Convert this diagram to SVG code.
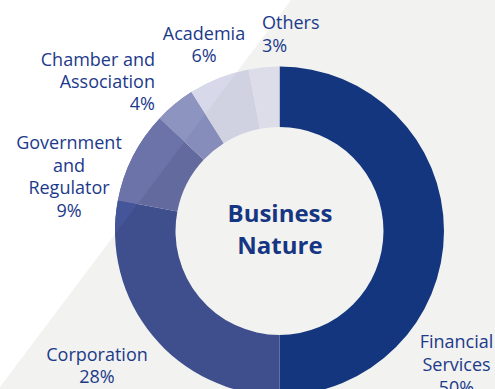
<svg xmlns="http://www.w3.org/2000/svg" width="495" height="389" viewBox="0 0 495 389">
<style>
.lbl{font-family:"Open Sans","Noto Sans",sans-serif;font-size:18px;fill:#1c3a8a}
.ttl{font-family:"Open Sans","Noto Sans",sans-serif;font-size:24px;font-weight:700;fill:#163683}
</style>
<defs>
<clipPath id="white-side"><polygon points="0,0 291,0 0,387"/></clipPath>
<path id="p-fin" d="M279.5,66.5 A164.5,164.5 0 0 1 279.5,395.5 L279.5,335 A104,104 0 0 0 279.5,127 Z"/>
<path id="p-corp" d="M279.5,395.5 A164.5,164.5 0 0 1 117.91,200.17 L177.34,211.51 A104,104 0 0 0 279.5,335 Z"/>
<path id="p-gov" d="M117.91,200.17 A164.5,164.5 0 0 1 159.58,118.40 L203.68,159.81 A104,104 0 0 0 177.34,211.51 Z"/>
<path id="p-cham" d="M159.58,118.40 A164.5,164.5 0 0 1 191.36,92.11 L223.78,143.19 A104,104 0 0 0 203.68,159.81 Z"/>
<path id="p-acad" d="M191.36,92.11 A164.5,164.5 0 0 1 248.67,69.41 L260.01,128.84 A104,104 0 0 0 223.78,143.19 Z"/>
<path id="p-oth" d="M248.67,69.41 A164.5,164.5 0 0 1 279.5,66.5 L279.5,127 A104,104 0 0 0 260.01,128.84 Z"/>
</defs>
<rect x="0" y="0" width="495" height="389" fill="#ffffff"/>
<polygon id="background" points="291,0 495,0 495,389 0,389 0,387" fill="#f2f2f0"/>
<g id="financial-services"><use href="#p-fin" fill="#14367f"/></g>
<g id="corporation"><use href="#p-corp" fill="#3f4f8e"/></g>
<g id="government"><use href="#p-gov" fill="#636b9e"/></g>
<g id="chamber"><use href="#p-cham" fill="#878dba"/></g>
<g id="academia"><use href="#p-acad" fill="#d0d2e2"/></g>
<g id="others"><use href="#p-oth" fill="#dcdde8"/></g>
<g id="white-side-tint" clip-path="url(#white-side)">
<use href="#p-corp" fill="#45559a"/>
<use href="#p-gov" fill="#6b73a8"/>
<use href="#p-cham" fill="#8e94c0"/>
<use href="#p-acad" fill="#d7d8e9"/>
<use href="#p-oth" fill="#e3e3ee"/>
</g>
<g id="center-title">
<text class="ttl" x="280" y="222" text-anchor="middle">Business</text>
<text class="ttl" x="280" y="254" text-anchor="middle">Nature</text>
</g>
<g id="label-academia">
<text class="lbl" x="204" y="40" text-anchor="middle">Academia</text>
<text class="lbl" x="204" y="62" text-anchor="middle">6%</text>
</g>
<g id="label-others">
<text class="lbl" x="262" y="29">Others</text>
<text class="lbl" x="262" y="52">3%</text>
</g>
<g id="label-chamber">
<text class="lbl" x="155" y="66" text-anchor="end">Chamber and</text>
<text class="lbl" x="155" y="88" text-anchor="end">Association</text>
<text class="lbl" x="155" y="110" text-anchor="end">4%</text>
</g>
<g id="label-government">
<text class="lbl" x="69" y="149" text-anchor="middle">Government</text>
<text class="lbl" x="69" y="172" text-anchor="middle">and</text>
<text class="lbl" x="69" y="194" text-anchor="middle">Regulator</text>
<text class="lbl" x="69" y="217" text-anchor="middle">9%</text>
</g>
<g id="label-corporation">
<text class="lbl" x="97" y="361" text-anchor="middle">Corporation</text>
<text class="lbl" x="97" y="383" text-anchor="middle">28%</text>
</g>
<g id="label-financial">
<text class="lbl" x="456.5" y="348" text-anchor="middle">Financial</text>
<text class="lbl" x="456.5" y="371" text-anchor="middle">Services</text>
<text class="lbl" x="456.5" y="394" text-anchor="middle">50%</text>
</g>
</svg>
